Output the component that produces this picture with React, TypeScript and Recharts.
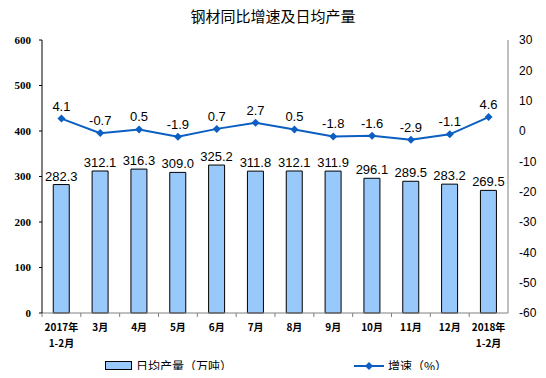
import React from 'react';
import { ComposedChart, Bar, Line, XAxis, YAxis, LabelList } from 'recharts';

const months = ['2017年\n1-2月', '3月', '4月', '5月', '6月', '7月', '8月', '9月', '10月', '11月', '12月', '2018年\n1-2月'];
const dailyOutput = [282.3, 312.1, 316.3, 309.0, 325.2, 311.8, 312.1, 311.9, 296.1, 289.5, 283.2, 269.5];
const growth = [4.1, -0.7, 0.5, -1.9, 0.7, 2.7, 0.5, -1.8, -1.6, -2.9, -1.1, 4.6];
const leftTicks = [0, 100, 200, 300, 400, 500, 600];
const rightTicks = [-60, -50, -40, -30, -20, -10, 0, 10, 20, 30];

const data = months.map((m, i) => ({ name: m, output: dailyOutput[i], growth: growth[i] }));

const BAR_COLOR = '#99C9FB';
const LINE_COLOR = '#0B5EC2';
const SANS = '"Liberation Sans", Arial, sans-serif';
const BAND = 466 / 12;

const MonthTick = (props: any) => {
  const { x, y, payload } = props;
  const lines = String(payload.value).split('\n');
  return (
    <g>
      <line x1={x - BAND / 2} x2={x - BAND / 2} y1={y - 8} y2={y - 4} stroke="#808080" />
      <text x={x} y={y + 10} textAnchor="middle" fontSize={10} fontWeight="bold" fontFamily="SimSun, 'Noto Sans CJK SC', serif" fill="#000">
        {lines.map((l, i) => (
          <tspan key={i} x={x} dy={i === 0 ? 0 : 16}>{l}</tspan>
        ))}
      </text>
    </g>
  );
};

const Diamond = (props: any) => {
  const { cx, cy } = props;
  const r = 4;
  return <path d={`M${cx},${cy - r}L${cx + r},${cy}L${cx},${cy + r}L${cx - r},${cy}Z`} fill={LINE_COLOR} />;
};

const LegendBox = () => (
  <div style={{ position: 'absolute', top: 357, left: 0, width: 546, height: 20, fontFamily: "'Noto Sans CJK SC', sans-serif", fontSize: 12 }}>
    <div style={{ position: 'absolute', left: 105, top: 0, display: 'flex', alignItems: 'center' }}>
      <span style={{ display: 'inline-block', width: 25, height: 7, background: BAR_COLOR, border: '1px solid #000', marginRight: 4 }} />
      <span>日均产量（万吨）</span>
    </div>
    <div style={{ position: 'absolute', left: 354, top: 0, display: 'flex', alignItems: 'center' }}>
      <svg width={30} height={10} style={{ marginRight: 4 }}>
        <line x1={0} x2={30} y1={5} y2={5} stroke={LINE_COLOR} strokeWidth={2} />
        <path d="M15,1L19,5L15,9L11,5Z" fill={LINE_COLOR} />
      </svg>
      <span>增速（%）</span>
    </div>
  </div>
);

export default function App() {
  return (
    <div style={{ position: 'relative', width: 546, height: 378, margin: -8, background: '#fff' }}>
      <div style={{ position: 'absolute', top: 5, left: 0, width: 546, textAlign: 'center', fontFamily: "'Noto Sans CJK SC', sans-serif", fontSize: 15 }}>
        钢材同比增速及日均产量
      </div>
      <ComposedChart width={546} height={378} data={data} margin={{ top: 40, right: 0, bottom: 35, left: 0 }} barCategoryGap="29%">
        <XAxis dataKey="name" height={30} interval={0} tick={<MonthTick />} tickLine={false} axisLine={{ stroke: '#808080' }} />
        <YAxis
          yAxisId="left"
          width={42}
          domain={[0, 600]}
          ticks={leftTicks}
          tick={{ fontSize: 11, fontFamily: 'serif', fontWeight: 'bold', fill: '#000' }}
          tickSize={3}
          tickMargin={8}
          axisLine={{ stroke: '#000' }}
          tickLine={{ stroke: '#000' }}
        />
        <YAxis
          yAxisId="right"
          orientation="right"
          width={38}
          domain={[-60, 30]}
          ticks={rightTicks}
          tick={{ fontSize: 12, fontFamily: SANS, fill: '#000' }}
          tickSize={4}
          tickMargin={7}
          axisLine={{ stroke: '#808080' }}
          tickLine={false}
        />
        <Bar yAxisId="left" dataKey="output" fill={BAR_COLOR} stroke="#000" strokeWidth={1} isAnimationActive={false}>
          <LabelList dataKey="output" position="top" offset={4} formatter={(v: number) => v.toFixed(1)} style={{ fontSize: 13, fontFamily: SANS, fill: '#000' }} />
        </Bar>
        <Line yAxisId="right" dataKey="growth" stroke={LINE_COLOR} strokeWidth={2} dot={<Diamond />} activeDot={false} isAnimationActive={false}>
          <LabelList dataKey="growth" position="top" offset={8} formatter={(v: number) => v.toFixed(1)} style={{ fontSize: 13, fontFamily: SANS, fill: '#000' }} />
        </Line>
      </ComposedChart>
      <LegendBox />
    </div>
  );
}
